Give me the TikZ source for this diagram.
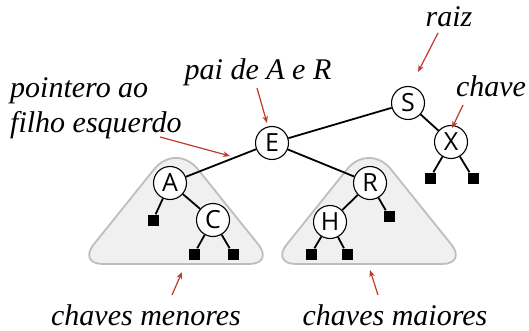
\documentclass[tikz,border=0pt]{standalone}
\usepackage{fontspec}
\newfontfamily\keyfont{Open Sans}
\newfontfamily\notefont{Liberation Serif}
\usetikzlibrary{arrows.meta}
\definecolor{callred}{RGB}{192,57,43}
\definecolor{subfill}{RGB}{240,240,240}
\definecolor{subedge}{RGB}{190,190,190}
\begin{document}
\begin{tikzpicture}[x=1pt,y=-1pt,
  key/.style={circle,draw=black,line width=1.1pt,fill=white,minimum size=33pt,
    inner sep=0pt,font=\keyfont\fontsize{25}{25}\selectfont},
  leaf/.style={rectangle,fill=black,minimum size=11pt,inner sep=0pt},
  link/.style={line width=1.8pt,black},
  callout/.style={callred,line width=1.2pt,-{Stealth[length=7pt,width=5.5pt]}},
  note/.style={font=\notefont\itshape\fontsize{30}{32}\selectfont,inner sep=0pt,anchor=base},
  subtree/.style={fill=subfill,draw=subedge,line width=1.8pt}]
\useasboundingbox (0,0) rectangle (529,331);

% shaded subtrees: rounded triangles, softer at the apex
\draw[subtree] (176,264) [rounded corners=25pt] -- (274,264)
  [rounded corners=35pt] -- (176,142) [rounded corners=25pt] -- (78,264) -- cycle;
\draw[subtree] (369,264) [rounded corners=25pt] -- (467,264)
  [rounded corners=35pt] -- (369,142) [rounded corners=25pt] -- (271,264) -- cycle;

% keys
\node[key] (S) at (408,103) {S};
\node[key] (X) at (451,142) {X};
\node[key] (E) at (272,143) {E};
\node[key] (A) at (170,183) {A};
\node[key] (C) at (213,220) {C};
\node[key] (R) at (370,183) {R};
\node[key] (H) at (330,222) {H};

% null links
\node[leaf] (la)  at (153,220) {};
\node[leaf] (lc1) at (194,254) {};
\node[leaf] (lc2) at (233,254) {};
\node[leaf] (lr)  at (389,216) {};
\node[leaf] (lh1) at (311,254) {};
\node[leaf] (lh2) at (347,254) {};
\node[leaf] (lx1) at (430,178) {};
\node[leaf] (lx2) at (473,178) {};

% links
\draw[link] (S) -- (E);
\draw[link] (S) -- (X);
\draw[link] (E) -- (A);
\draw[link] (E) -- (R);
\draw[link] (A) -- (la);
\draw[link] (A) -- (C);
\draw[link] (C) -- (lc1);
\draw[link] (C) -- (lc2);
\draw[link] (R) -- (H);
\draw[link] (R) -- (lr);
\draw[link] (H) -- (lh1);
\draw[link] (H) -- (lh2);
\draw[link] (X) -- (lx1);
\draw[link] (X) -- (lx2);

% labels (placed by baseline)
\node[note] (raiz) at (449,27) {raiz};
\node[note] (chave) at (491,97) {chave};
\node[note] (pai) at (258,80) {pai de A e R};
\node[note,anchor=base west] (ptr1) at (10,98) {pointero ao};
\node[note,anchor=base west] (ptr2) at (10,133) {filho esquerdo};
\node[note] (menores) at (146,325) {chaves menores};
\node[note] (maiores) at (395,325) {chaves maiores};

% callout arrows
\coordinate (raizA) at (438,33);   \coordinate (raizB) at (418,72);
\coordinate (chaveA) at (463,105); \coordinate (chaveB) at (452,128);
\coordinate (paiA) at (257,88);    \coordinate (paiB) at (267,123);
\coordinate (ptrA) at (160,137);   \coordinate (ptrB) at (230,156);
\coordinate (menA) at (172,295);   \coordinate (menB) at (182,272);
\coordinate (maiA) at (378,295);   \coordinate (maiB) at (370,270);
\draw[callout] (raizA) -- (raizB);
\draw[callout] (chaveA) -- (chaveB);
\draw[callout] (paiA) -- (paiB);
\draw[callout] (ptrA) -- (ptrB);
\draw[callout] (menA) -- (menB);
\draw[callout] (maiA) -- (maiB);
\end{tikzpicture}
\end{document}
